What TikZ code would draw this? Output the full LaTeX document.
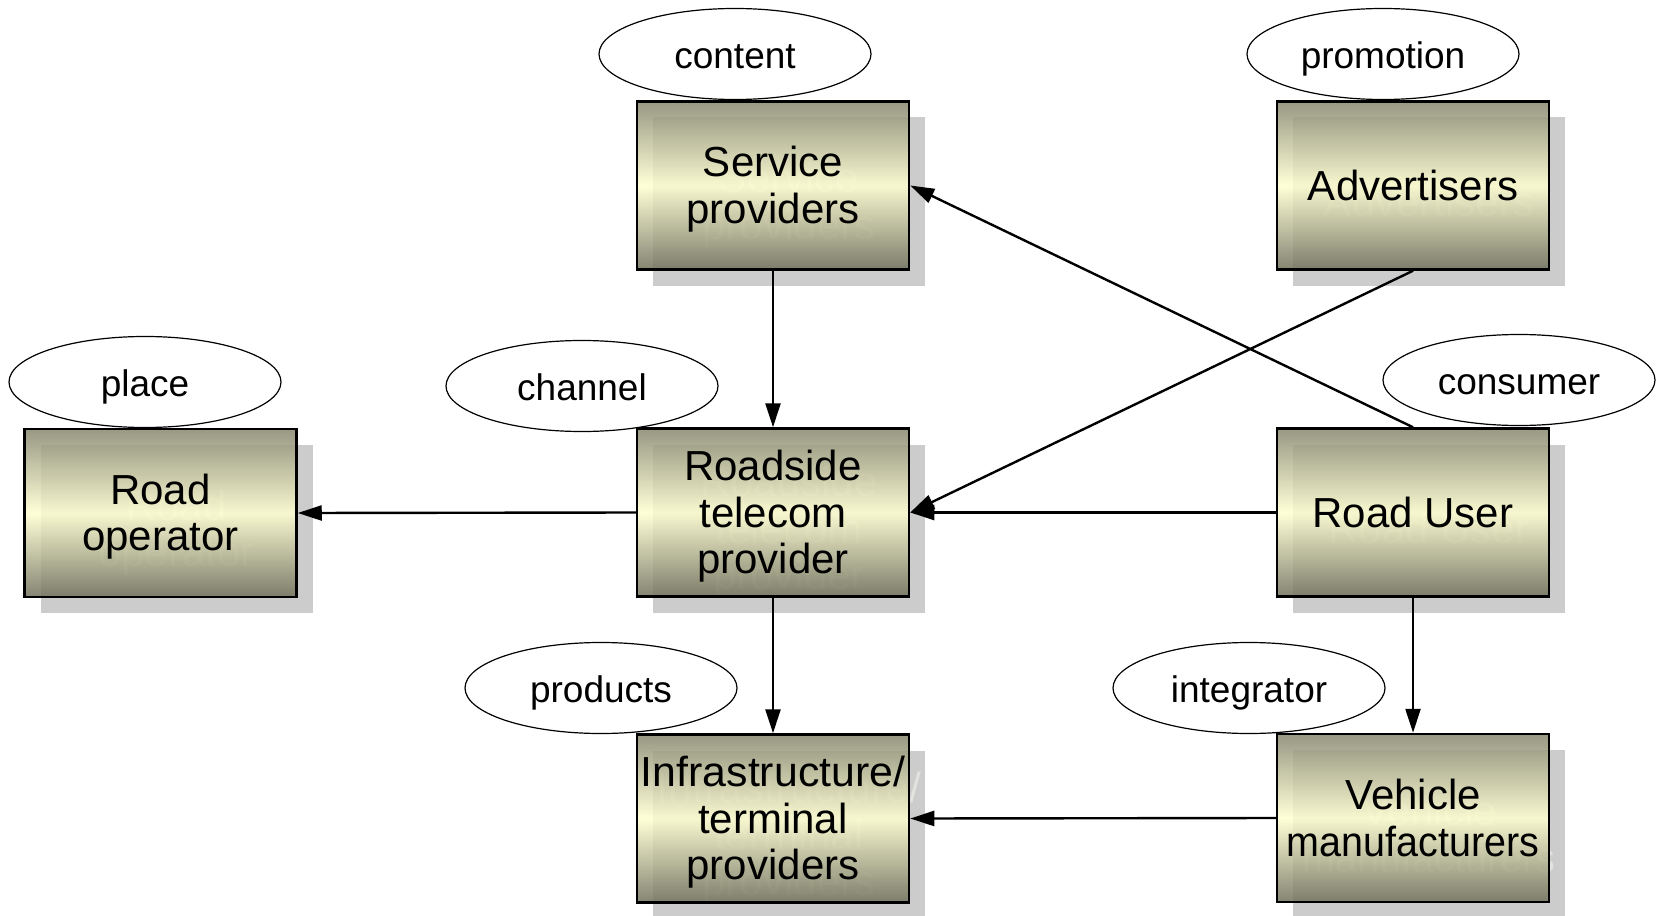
\documentclass[tikz,border=0pt]{standalone}
\usepackage{fontspec}
\setmainfont{Liberation Sans}
\usetikzlibrary{arrows.meta,shapes.geometric}
\definecolor{bxtop}{RGB}{134,134,110}
\definecolor{bxmid}{RGB}{255,255,208}
\definecolor{bxbot}{RGB}{111,111,90}
\definecolor{shd}{RGB}{204,204,204}
\definecolor{ghost}{RGB}{226,226,222}
\newcommand\topstrt{\rule{0pt}{38pt}}
\newcommand\botstrt{\rule[-8pt]{0pt}{8pt}}
\tikzset{
 boxbase/.style={rectangle, minimum width=272pt, minimum height=168pt, inner sep=0pt, align=center, font=\fontsize{42}{46.5}\selectfont},
 shadowbox/.style={boxbase, fill=shd, text=ghost},
 mainbox/.style={boxbase, draw=black, line width=2.5pt, top color=bxtop, bottom color=bxbot, middle color=bxmid, fill opacity=0.85, text opacity=1, draw opacity=1},
 tag/.style={ellipse, draw=black, line width=1.2pt, fill=white, minimum width=272pt, minimum height=91pt, inner sep=0pt, font=\fontsize{37}{40}\selectfont, text height=37pt, text depth=8pt},
 conn/.style={line width=2.4pt, -{Triangle[length=24pt,width=15pt]}},
}
\newcommand\actorbox[4]{%
  \node[shadowbox] (#1s) at (#2+16,#3+16) {\topstrt#4\botstrt};
  \node[mainbox] (#1) at (#2,#3) {\topstrt#4\botstrt};}
\begin{document}
\begin{tikzpicture}[x=1pt,y=-1pt]
\useasboundingbox (0,0) rectangle (1656,915);
\actorbox{sp}{773}{185.5}{Service\\providers}
\actorbox{adv}{1413}{185.5}{Advertisers}
\actorbox{ro}{160.5}{513}{Road\\operator}
\actorbox{rt}{773}{512.5}{Roadside\\telecom\\provider}
\actorbox{ru}{1413}{512.5}{Road User}
\actorbox{inf}{773}{818.5}{\scalebox{1.02}[1]{Infrastructure/}\\terminal\\providers}
\actorbox{veh}{1413}{818}{Vehicle\\\scalebox{0.94}[1]{manufacturers}}

\node[tag] (tcontent) at (735,54) {content};
\node[tag] (tpromo) at (1383,54) {promotion};
\node[tag] (tplace) at (145,382) {place};
\node[tag] (tchannel) at (582,386) {channel};
\node[tag] (tconsumer) at (1519,380) {consumer};
\node[tag] (tproducts) at (601,688) {products};
\node[tag] (tintegr) at (1249,688) {integrator};

\draw[conn] (sp.south) -- (rt.north);
\draw[conn] (ru.north) -- (sp.east);
\draw[conn] (adv.south) -- (rt.east);
\draw[conn] (ru.west) -- (rt.east);
\draw[conn] (rt.west) -- (ro.east);
\draw[conn] (rt.south) -- (inf.north);
\draw[conn] (ru.south) -- (veh.north);
\draw[conn] (veh.west) -- (inf.east);
\end{tikzpicture}
\end{document}
